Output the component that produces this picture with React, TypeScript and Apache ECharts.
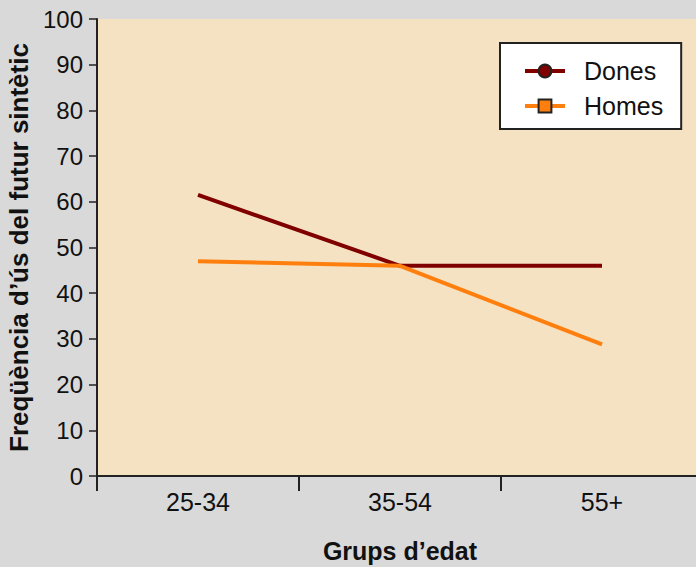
import React, { useEffect, useRef } from "react";
import * as echarts from "echarts";

const categories = ["25-34", "35-54", "55+"];
const dones = [61.5, 46, 46];
const homes = [47, 46, 28.8];
const yTicks = { min: 0, max: 100, interval: 10 };

export default function App() {
  const ref = useRef<HTMLDivElement>(null);
  useEffect(() => {
    document.body.style.margin = "0";
    const chart = echarts.init(ref.current!, null, { renderer: "svg" });
    const font = "'Liberation Sans', Arial, sans-serif";
    chart.setOption({
      animation: false,
      backgroundColor: "#d9d9d9",
      textStyle: { fontFamily: font },
      grid: {
        left: 97,
        top: 19,
        width: 606,
        bottom: 91,
        show: true,
        backgroundColor: "#f5e2c2",
        borderWidth: 0,
        containLabel: false,
        outerBoundsMode: "none",
      },
      legend: {
        orient: "vertical",
        left: 500,
        top: 43,
        backgroundColor: "#ffffff",
        borderColor: "#222",
        borderWidth: 2,
        borderRadius: 0,
        padding: [14, 18, 9, 23],
        itemWidth: 40,
        itemHeight: 16,
        itemGap: 7,
        lineStyle: { width: 4 },
        textStyle: {
          fontSize: 25,
          lineHeight: 28,
          color: "#111",
          fontFamily: font,
          padding: [0, 0, 0, 14],
        },
        data: ["Dones", "Homes"],
      },
      xAxis: {
        type: "category",
        data: categories,
        boundaryGap: true,
        name: "Grups d\u2019edat",
        nameLocation: "middle",
        nameGap: 62,
        nameTextStyle: { fontSize: 25, fontWeight: "bold", color: "#111", fontFamily: font },
        axisLine: { lineStyle: { color: "#222", width: 2 } },
        axisTick: { show: true, length: 15, lineStyle: { color: "#222", width: 2 } },
        axisLabel: { fontSize: 25, color: "#111", margin: 13, fontFamily: font },
        splitLine: { show: false },
      },
      yAxis: {
        type: "value",
        min: yTicks.min,
        max: yTicks.max,
        interval: yTicks.interval,
        name: "Freq\u00fc\u00e8ncia d\u2019\u00fas del futur sint\u00e8tic",
        nameLocation: "middle",
        nameGap: 64,
        nameTextStyle: { fontSize: 26, fontWeight: "bold", color: "#111", fontFamily: font },
        axisLine: { show: true, lineStyle: { color: "#222", width: 2 } },
        axisTick: { show: true, length: 8, lineStyle: { color: "#222", width: 1.5 } },
        axisLabel: { fontSize: 24, color: "#111", margin: 14, fontFamily: font },
        splitLine: { show: false },
      },
      series: [
        {
          name: "Dones",
          type: "line",
          data: dones,
          symbol: "circle",
          symbolSize: 15,
          showSymbol: false,
          color: "#800000",
          lineStyle: { color: "#800000", width: 4 },
          itemStyle: { color: "#800000", borderColor: "#222", borderWidth: 1.5 },
        },
        {
          name: "Homes",
          type: "line",
          data: homes,
          symbol: "rect",
          symbolSize: 15,
          showSymbol: false,
          color: "#ff7f0e",
          lineStyle: { color: "#ff7f0e", width: 4 },
          itemStyle: { color: "#ff7f0e", borderColor: "#222", borderWidth: 1.5 },
        },
      ],
    });
    return () => chart.dispose();
  }, []);
  return <div ref={ref} style={{ width: 696, height: 567 }} />;
}
